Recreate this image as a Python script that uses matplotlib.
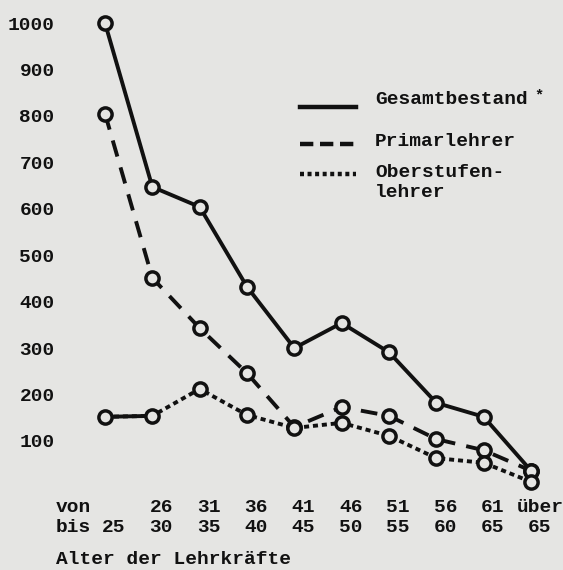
import matplotlib
matplotlib.use("Agg")
import matplotlib.pyplot as plt
from matplotlib.lines import Line2D
from matplotlib.transforms import ScaledTranslation

# ---- data ----
age_from = ["", "26", "31", "36", "41", "46", "51", "56", "61", "über"]
age_to = ["25", "30", "35", "40", "45", "50", "55", "60", "65", "65"]
gesamt = [1000, 647, 604, 432, 300, 354, 291, 182, 152, 36]
primar = [805, 451, 343, 246, 130, 173, 154, 104, 80, 36]
ober = [152, 154, 212, 156, 128, 139, 111, 63, 53, 12]
y_ticks = [100, 200, 300, 400, 500, 600, 700, 800, 900, 1000]
legend_labels = ["Gesamtbestand", "Primarlehrer", "Oberstufen-\nlehrer"]
x_title = "Alter der Lehrkräfte"

BG = "#e5e5e3"
INK = "#111111"
FONT = "Liberation Mono"
FS = 14
LS = 1.23

W, H = 563, 570
fig = plt.figure(figsize=(W / 100, H / 100), dpi=100, facecolor=BG)

def fx(px):
    return px / W

def fy(py):
    return 1 - py / H

# axes: left edge px 70, bottom px 495
ax = fig.add_axes([fx(70), fy(495), 1 - fx(70), 495 / H])
ax.set_facecolor(BG)
for s in ax.spines.values():
    s.set_visible(False)

x = list(range(len(gesamt)))
lw = 2.8
mk = dict(marker="o", markersize=9.5, markeredgewidth=2.5,
          markerfacecolor=BG, markeredgecolor=INK, color=INK)

ax.plot(x, gesamt, linestyle="-", linewidth=lw, zorder=3, **mk)
ax.plot(x, primar, linestyle=(0, (4.3, 2.9)), linewidth=lw, zorder=3, **mk)
ax.plot(x, ober, linestyle=(0, (1.3, 1.0)), linewidth=lw, zorder=3, **mk)
# first segment of the Oberstufen line is drawn solid in the original
ax.plot(x[:2], ober[:2], linestyle="-", linewidth=lw, zorder=2.9, color=INK)

ax.set_xlim(-(105 - 70) / 47.33, 9 + (563 - 531) / 47.33)
ax.set_ylim(1000 - (495 - 23) / 0.4644, 1000 + 23 / 0.4644)

ax.set_yticks(y_ticks)
ax.set_yticklabels([str(v) for v in y_ticks], fontfamily=FONT,
                   fontweight="bold", fontsize=FS, color=INK)
ax.tick_params(axis="y", length=0, pad=11)

ax.set_xticks(x)
ax.set_xticklabels([f"{a}\n{b}" for a, b in zip(age_from, age_to)],
                   fontfamily=FONT, fontweight="bold", fontsize=FS,
                   color=INK, linespacing=LS)
ax.tick_params(axis="x", length=0, pad=3)
off = ScaledTranslation(9 / 100, 0, fig.dpi_scale_trans)
for lab in ax.get_xticklabels():
    lab.set_transform(lab.get_transform() + off)

fig.text(fx(56), fy(499), "von\nbis", ha="left", va="top",
         fontfamily=FONT, fontweight="bold", fontsize=FS, color=INK,
         linespacing=LS)
fig.text(fx(56), fy(560), x_title, ha="left", va="center",
         fontfamily=FONT, fontweight="bold", fontsize=FS, color=INK)

# legend
styles = ["-", (0, (3.0, 1.5)), (0, (0.9, 0.8))]
ys = [107, 144, 174]
for st, yy in zip(styles, ys):
    fig.add_artist(Line2D([fx(300), fx(356)], [fy(yy), fy(yy)],
                          transform=fig.transFigure, color=INK,
                          linewidth=3.2, linestyle=st))
text_ys = [101, 143, 174]
for lab, yy in zip(legend_labels, text_ys):
    fig.text(fx(375), fy(yy - 10), lab, ha="left", va="top",
             fontfamily=FONT, fontweight="bold", fontsize=FS,
             color=INK, linespacing=LS)
fig.text(fx(534), fy(88), "*", ha="left", va="top",
         fontfamily=FONT, fontweight="bold", fontsize=11, color=INK)

fig.savefig("out.png", dpi=100, facecolor=BG)
